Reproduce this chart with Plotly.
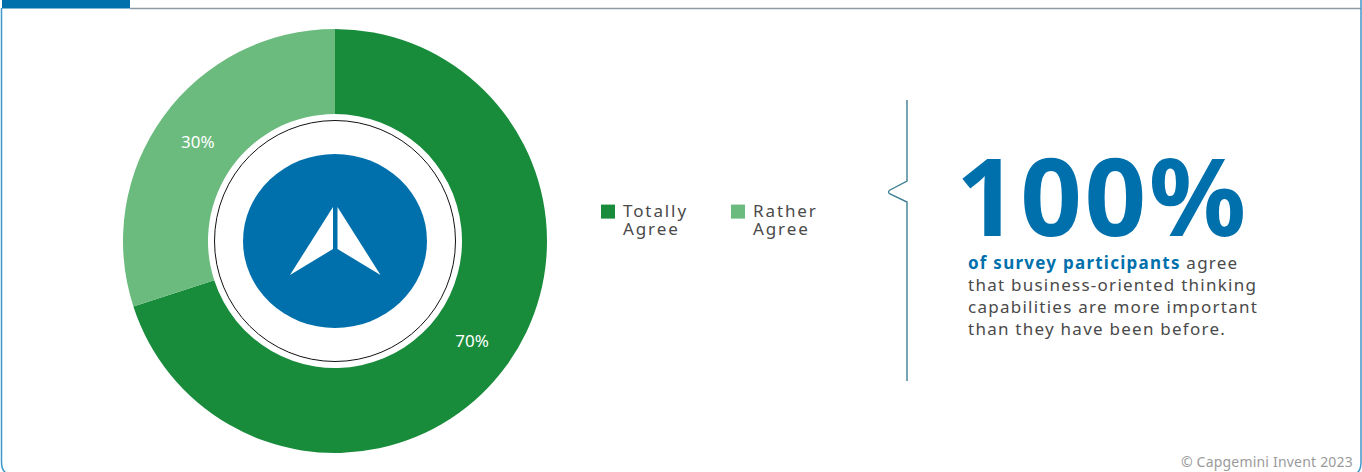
import plotly.graph_objects as go

# Survey shares
categories = ["Totally<br>Agree", "Rather<br>Agree"]
shares = [70, 30]
slice_colors = ["#198C3C", "#6BBB7F"]

headline = "100%"
blurb_lines = [
    "<b style='color:#0070AD'>of survey participants</b> agree",
    "that business-oriented thinking",
    "capabilities are more important",
    "than they have been before.",
]
credit = "© Capgemini Invent 2023"

W, H = 1362, 472
BLUE = "#0070AD"
TEXT = "#4A4A4A"
FONT = "Noto Sans"


def px(x):
    return x / W


def py(y):
    return 1 - y / H


def path(points):
    return "M " + " L ".join(f"{px(x):.5f},{py(y):.5f}" for x, y in points)


def paper_shape(**kw):
    return dict(xref="paper", yref="paper", **kw)


CX, CY = 335, 241
shapes = [
    # card frame
    paper_shape(type="path", line=dict(color="#8E9AA3", width=1.3),
                path=path([(130, 8.5), (1361, 8.5)])),
    paper_shape(type="path", line=dict(color="#3F97C9", width=1.5),
                path=f"M {px(1.5)},{py(8)} L {px(1.5)},{py(462)} "
                     f"Q {px(1.5)},{py(470)} {px(6)},{py(473)}"),
    paper_shape(type="path", line=dict(color="#3F97C9", width=1.5),
                path=f"M {px(1361)},{py(0)} L {px(1361)},{py(462)} "
                     f"Q {px(1361)},{py(470)} {px(1357)},{py(473)}"),
    paper_shape(type="rect", x0=px(2), x1=px(130), y0=py(0), y1=py(8.5),
                fillcolor=BLUE, line_width=0),
    # hub of the ring
    paper_shape(type="circle", x0=px(CX - 120.5), x1=px(CX + 120.5),
                y0=py(CY - 120.5), y1=py(CY + 120.5),
                line=dict(color="#111111", width=1), fillcolor="rgba(0,0,0,0)"),
    paper_shape(type="circle", x0=px(243), x1=px(427), y0=py(154), y1=py(328),
                fillcolor=BLUE, line_width=0),
    # arrowhead emblem
    paper_shape(type="path", fillcolor="white", line_width=0,
                path=path([(333, 207), (333, 249), (290, 275)]) + " Z"),
    paper_shape(type="path", fillcolor="white", line_width=0,
                path=path([(337.5, 207), (337.5, 249), (380.5, 275)]) + " Z"),
    # brace between chart and callout
    paper_shape(type="path", line=dict(color="#3F7F94", width=1.4),
                path=f"M {px(907)},{py(100)} L {px(907)},{py(181)} L {px(890)},{py(190)} "
                     f"Q {px(887)},{py(192)} {px(890)},{py(194)} L {px(907)},{py(202)} "
                     f"L {px(907)},{py(381)}"),
]

annotations = [
    dict(text=f"<b>{headline}</b>", x=px(955), y=py(194.5), xanchor="left", yanchor="middle",
         showarrow=False, font=dict(family=FONT, size=108, color=BLUE)),
]
for i, line in enumerate(blurb_lines):
    annotations.append(dict(text=line, x=px(967), y=py(262 + i * 22.2), xanchor="left",
                            yanchor="middle", showarrow=False,
                            font=dict(family=FONT, size=17, color=TEXT)))
annotations.append(dict(text=credit, x=px(1354), y=py(461), xanchor="right", yanchor="middle",
                        showarrow=False, font=dict(family=FONT, size=14, color="#9A9A9A")))

fig = go.Figure(go.Pie(
    labels=categories,
    values=shares,
    sort=False,
    direction="clockwise",
    rotation=0,
    hole=127 / 212,
    marker=dict(colors=slice_colors, line=dict(width=0)),
    textinfo="percent",
    textposition="inside",
    insidetextorientation="horizontal",
    textfont=dict(family=FONT, size=17, color="white"),
    domain=dict(x=[px(123), px(547)], y=[py(453), py(29)]),
))

fig.update_layout(
    width=W, height=H,
    margin=dict(l=0, r=0, t=0, b=0),
    paper_bgcolor="white",
    font=dict(family=FONT, color=TEXT),
    shapes=shapes,
    annotations=annotations,
    showlegend=True,
    legend=dict(orientation="h", x=px(583), y=py(193), xanchor="left", yanchor="top",
                entrywidth=85, entrywidthmode="pixels",
                font=dict(family=FONT, size=17, color=TEXT), bgcolor="rgba(0,0,0,0)"),
)

# Wider tracking for the copy, tighter leading and top-aligned swatches in the legend.
# Tracking widens the text around its centre, so each block is moved back to its edge.
post = """
var gd = document.querySelector('.plotly-graph-div');
var css = document.createElement('style');
css.textContent =
  '.annotation-text{letter-spacing:1.25px}' +
  '.annotation[data-index="0"] .annotation-text{letter-spacing:2.5px}' +
  '.annotation[data-index="5"] .annotation-text{letter-spacing:0.2px}' +
  '.legendtext{letter-spacing:1.9px}';
document.head.appendChild(css);
gd.querySelectorAll('.annotation').forEach(function(a){
  var i = +a.getAttribute('data-index');
  var r = a.querySelector('.annotation-text').getBoundingClientRect();
  var dx = i === 0 ? 964 - r.left : i === 5 ? 1361 - r.right : 976 - r.left;
  a.querySelector('.annotation-text-g').setAttribute('transform', 'translate(' + dx + ',0)');
});
gd.querySelectorAll('.legend .traces').forEach(function(tr){
  var lines = tr.querySelectorAll('.legendtext tspan.line');
  if (lines.length > 1) {
    lines[1].setAttribute('dy', '18px');
  }
  var sym = tr.querySelector('.legendpie');
  if (sym) {
    sym.setAttribute('transform', 'translate(25,-10) scale(1.17)');
  }
});
"""
fig.write_html("out.html", post_script=post)
